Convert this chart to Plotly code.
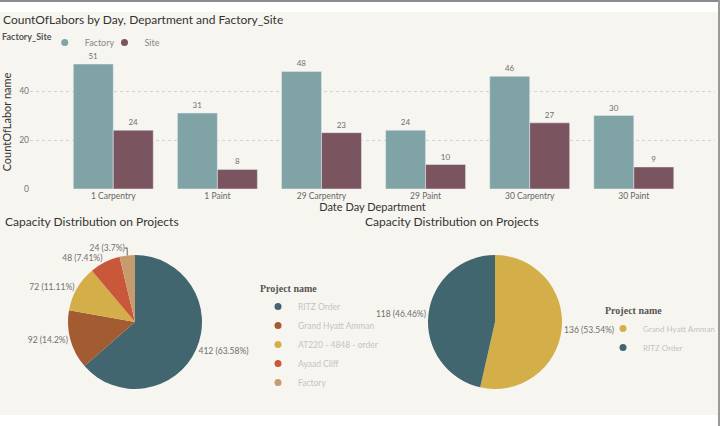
import plotly.graph_objects as go

# ---------------- data ----------------
categories = ["1 Carpentry", "1 Paint", "29 Carpentry", "29 Paint", "30 Carpentry", "30 Paint"]
factory_counts = [51, 31, 48, 24, 46, 30]
site_counts = [24, 8, 23, 10, 27, 9]
y_ticks = [0, 20, 40]

pie1_labels = ["RITZ Order", "Grand Hyatt Amman", "AT220 - 4848 - order", "Ayaad Cliff", "Factory"]
pie1_values = [412, 92, 72, 48, 24]
pie2_labels = ["Grand Hyatt Amman", "RITZ Order"]
pie2_values = [136, 118]

# ---------------- styles ----------------
W, H = 720, 426
BG = "#F7F5F0"
C_FACTORY = "#80A4A5"
C_SITE = "#7A5560"
pie1_colors = ["#41666F", "#A35B32", "#D4AE48", "#C9573A", "#C69C6D"]
pie2_colors = ["#D4AE48", "#41666F"]
FONT = "Lato, Noto Sans, sans-serif"
SERIF = "Georgia, Liberation Serif, serif"


def px_x(x):
    return x / W


def px_y(y):
    return 1 - y / H


def pie_text(values):
    total = sum(values)
    return [f"{v} ({round(v / total * 100, 2):g}%)" for v in values]


fig = go.Figure()

# bars
fig.add_trace(go.Bar(x=categories, y=factory_counts, name="Factory", marker_color=C_FACTORY,
                     text=factory_counts, textposition="outside", cliponaxis=False,
                     textfont=dict(size=8, color="#6f6f6f", family=FONT), showlegend=False))
fig.add_trace(go.Bar(x=categories, y=site_counts, name="Site", marker_color=C_SITE,
                     text=site_counts, textposition="outside", cliponaxis=False,
                     textfont=dict(size=8, color="#6f6f6f", family=FONT), showlegend=False))

# legend entries (circle markers like the original)
for name, col in [("Factory", C_FACTORY), ("Site", C_SITE)]:
    fig.add_trace(go.Scatter(x=[None], y=[None], mode="markers", name=name,
                             marker=dict(color=col, size=7), legend="legend", hoverinfo="skip"))
for name, col in zip(pie1_labels, pie1_colors):
    fig.add_trace(go.Scatter(x=[None], y=[None], mode="markers", name=name,
                             marker=dict(color=col, size=7), legend="legend2", hoverinfo="skip"))
for name, col in zip(pie2_labels, pie2_colors):
    fig.add_trace(go.Scatter(x=[None], y=[None], mode="markers", name=name,
                             marker=dict(color=col, size=7), legend="legend3", hoverinfo="skip"))

# pies
r = 67
for vals, labs, cols, cx in [(pie1_values, pie1_labels, pie1_colors, 135),
                             (pie2_values, pie2_labels, pie2_colors, 495)]:
    cy = 322
    fig.add_trace(go.Pie(values=vals, labels=labs, sort=False, direction="clockwise", rotation=0,
                         marker=dict(colors=cols, line=dict(width=0)),
                         customdata=pie_text(vals), texttemplate="%{customdata}",
                         textposition="outside", automargin=False,
                         outsidetextfont=dict(size=8.5, color="#6f6f6f", family=FONT),
                         showlegend=False,
                         domain=dict(x=[px_x(cx - r), px_x(cx + r)], y=[px_y(cy + r), px_y(cy - r)])))

fig.update_layout(
    width=W, height=H, autosize=False,
    margin=dict(l=0, r=0, t=0, b=0, autoexpand=False),
    paper_bgcolor=BG, plot_bgcolor="rgba(0,0,0,0)",
    font=dict(family=FONT, color="#555"),
    barmode="group", bargap=0.232, bargroupgap=0,
    title=dict(text="CountOfLabors by Day, Department and Factory_Site", x=px_x(3), xanchor="left",
               y=px_y(20), yanchor="middle", font=dict(size=12, color="#333", family=FONT)),
    xaxis=dict(domain=[px_x(30), px_x(715)], range=[-0.8, 5.78], showgrid=False, zeroline=False,
               showline=False, ticks="", tickfont=dict(size=8.5, color="#666"), automargin=False,
               title=dict(text="Date Day Department", font=dict(size=11, color="#333"), standoff=3)),
    yaxis=dict(domain=[px_y(189), px_y(55)], range=[0, 54.7], tickvals=y_ticks, automargin=False,
               showgrid=True, gridcolor="#D2D2D2", griddash="dot", gridwidth=1,
               zeroline=False, showline=False, ticks="", tickfont=dict(size=8.5, color="#777"),
               title=dict(text="CountOfLabor name", font=dict(size=11, color="#333"), standoff=6)),
    legend=dict(orientation="h", x=px_x(0), y=px_y(28), xanchor="left", yanchor="top",
                title=dict(text="<b>Factory_Site</b>", side="left", font=dict(size=9, color="#555")),
                font=dict(size=9, color="#888"), bgcolor="rgba(0,0,0,0)", itemwidth=30,
                indentation=-15),
    legend2=dict(x=px_x(258), y=px_y(279), xanchor="left", yanchor="top",
                 title=dict(text="<b>Project name</b>", font=dict(size=10, color="#555", family=SERIF)),
                 font=dict(size=8.5, color="#C4C4C4"), bgcolor="rgba(0,0,0,0)", itemwidth=30),
    legend3=dict(x=px_x(603), y=px_y(301), xanchor="left", yanchor="top",
                 title=dict(text="<b>Project name</b>", font=dict(size=10, color="#555", family=SERIF)),
                 font=dict(size=8, color="#C4C4C4"), bgcolor="rgba(0,0,0,0)", itemwidth=30),
    annotations=[
        dict(text="Capacity Distribution on Projects", x=px_x(3), y=px_y(221), xref="paper", yref="paper",
             xanchor="left", yanchor="middle", showarrow=False, font=dict(size=12, color="#333")),
        dict(text="Capacity Distribution on Projects", x=px_x(363), y=px_y(221), xref="paper", yref="paper",
             xanchor="left", yanchor="middle", showarrow=False, font=dict(size=12, color="#333")),
    ],
    shapes=[
        dict(type="rect", xref="paper", yref="paper", x0=0, x1=1, y0=px_y(12), y1=1,
             fillcolor="white", line_width=0, layer="below"),
        dict(type="rect", xref="paper", yref="paper", x0=0, x1=1, y0=px_y(2), y1=1,
             fillcolor="#8C8C8C", line_width=0, layer="below"),
        dict(type="rect", xref="paper", yref="paper", x0=0, x1=1, y0=0, y1=px_y(415),
             fillcolor="white", line_width=0, layer="below"),
        dict(type="rect", xref="paper", yref="paper", x0=px_x(718), x1=1, y0=0, y1=1,
             fillcolor="#9A9A9A", line_width=0, layer="below"),
    ],
)

post = ("document.body.style.margin='0';document.body.style.overflow='hidden';"
        "var gd=document.getElementById('{plot_id}');"
        "Plotly.relayout(gd,{width:720,height:426});")
fig.write_html("out.html", config={"responsive": False, "displayModeBar": False}, post_script=post)
